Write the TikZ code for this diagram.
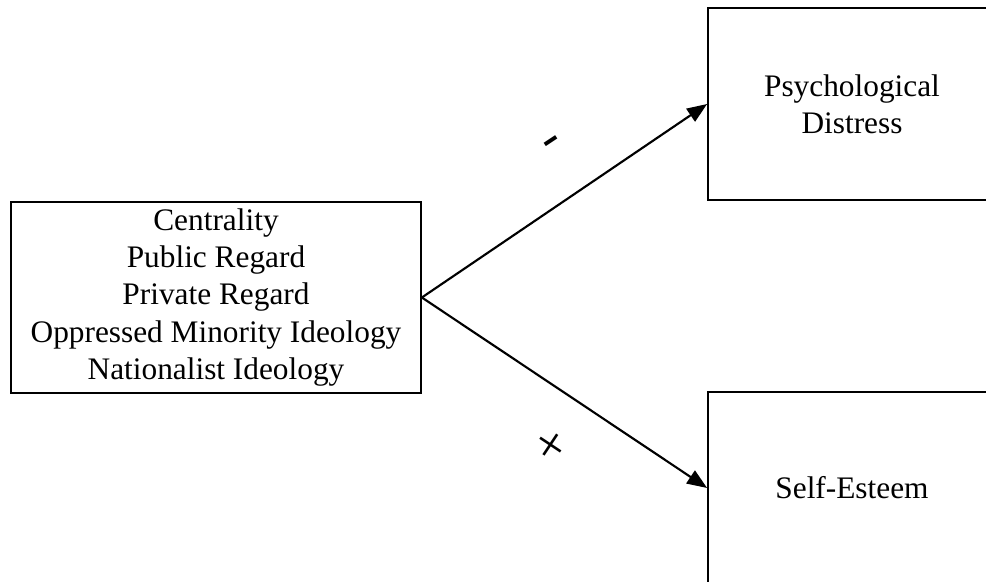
\documentclass[tikz,border=0pt]{standalone}
\usepackage{fontspec}
\setmainfont{Liberation Serif}
\usetikzlibrary{arrows.meta, positioning}
\tikzstyle{var_node} = [rectangle, draw=black, line width=1.3pt, align=center, font=\fontsize{23.5}{27.9}\selectfont]
\tikzstyle{path_arrow} = [line width=1.6pt, -{Triangle[length=15pt, width=11.5pt]}]
\tikzstyle{sign_label} = [font=\fontsize{40}{42}\selectfont, inner sep=0pt]

\begin{document}
\begin{tikzpicture}[x=0.75pt, y=-0.75pt]
    \useasboundingbox (0,0) rectangle (986,582);
    \node (identity) [var_node, minimum width=307.5pt, minimum height=143.25pt] at (216,297.5) {Centrality\\Public Regard\\Private Regard\\Oppressed Minority Ideology\\Nationalist Ideology};
    \node (distress) [var_node, minimum width=216pt, minimum height=144pt] at (852,104) {Psychological\\Distress};
    \node (esteem) [var_node, minimum width=216pt, minimum height=144pt] at (852,488) {Self-Esteem};
    \node (minus_sign) [sign_label, rotate=33.6] at (554,146) {-};
    \node (plus_sign) [sign_label, rotate=-33.6] at (549,447) {+};

    \draw [path_arrow] (identity.east) -- (distress.west);
    \draw [path_arrow] (identity.east) -- (esteem.west);
\end{tikzpicture}
\end{document}
